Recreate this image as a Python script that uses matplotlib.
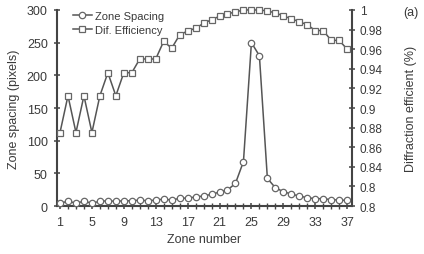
import numpy as np
import matplotlib
matplotlib.use('Agg')
import matplotlib.pyplot as plt
from matplotlib.ticker import FixedLocator, FixedFormatter, MultipleLocator

# zone numbers 1..37
zones = list(range(1, 38))

# zone spacing (pixels)
spacing = [4.6, 7.2, 4.6, 7.2, 4.6, 7.2, 8.1, 7.2, 8.1, 8.0,
           9.2, 8.0, 9.2, 10.7, 9.2, 11.8, 12.3, 13.8, 15.5, 17.9,
           21.4, 24.5, 34.8, 68.0, 250.0, 230.0, 42.4, 28.0, 22.0, 18.4,
           15.3, 12.8, 11.3, 11.3, 9.8, 9.2, 8.7]

# diffraction efficiency
efficiency = [0.875, 0.9125, 0.875, 0.9125, 0.875, 0.9125, 0.936, 0.9125, 0.936, 0.936,
              0.95, 0.95, 0.95, 0.968, 0.961, 0.9745, 0.9786, 0.9813, 0.9864, 0.990,
              0.9936, 0.996, 0.998, 1.0, 1.0, 1.0, 0.999, 0.997, 0.994, 0.991,
              0.988, 0.985, 0.979, 0.979, 0.969, 0.969, 0.960]

x_ticks = [1, 5, 9, 13, 17, 21, 25, 29, 33, 37]
right_ticks = [0.8, 0.82, 0.84, 0.86, 0.88, 0.9, 0.92, 0.94, 0.96, 0.98, 1.0]
right_labels = ['0.8', '0.8', '0.84', '0.86', '0.88', '0.9', '0.92', '0.94', '0.96', '0.98', '1']

plt.rcParams['font.family'] = ['Liberation Sans', 'DejaVu Sans']
plt.rcParams['font.size'] = 9

line_col = '#555555'
text_col = '#3a3a3a'
spine_col = '#444444'

fig = plt.figure(figsize=(4.24, 2.55), dpi=100)
ax = fig.add_axes([0.134, 0.188, 0.696, 0.769])
ax2 = ax.twinx()

l1, = ax.plot(zones, spacing, '-o', color=line_col, lw=1.1, ms=4.6,
              mfc='white', mec='#666666', mew=0.9, clip_on=False, zorder=3)
l2, = ax2.plot(zones, efficiency, '-s', color=line_col, lw=1.1, ms=5,
               mfc='white', mec='#666666', mew=0.9, clip_on=False, zorder=3)

ax.set_xlim(0.6, 37.6)
ax.set_ylim(0, 300)
ax2.set_ylim(0.8, 1.0)

ax.xaxis.set_major_locator(FixedLocator(x_ticks))
ax.xaxis.set_minor_locator(MultipleLocator(1))
ax.yaxis.set_major_locator(MultipleLocator(50))
ax2.yaxis.set_major_locator(FixedLocator(right_ticks))
ax2.yaxis.set_major_formatter(FixedFormatter(right_labels))

for a in (ax, ax2):
    a.spines['top'].set_visible(False)
    for s in ('left', 'right', 'bottom'):
        a.spines[s].set_color(spine_col)
        a.spines[s].set_linewidth(1.5)
    a.tick_params(axis='both', which='major', direction='inout', length=5,
                  width=1.1, color=spine_col, labelcolor=text_col, labelsize=9)
    a.tick_params(axis='both', which='minor', direction='inout', length=4,
                  width=1.0, color=spine_col)
ax.spines['right'].set_visible(False)
ax2.spines['left'].set_visible(False)
ax2.spines['bottom'].set_visible(False)
ax.tick_params(axis='x', which='major', pad=5)
ax.tick_params(axis='y', which='major', pad=4)
ax2.tick_params(axis='y', which='major', pad=3, labelsize=8.5)

ax.set_xlabel('Zone number', color=text_col, fontsize=9, labelpad=3)
ax.set_ylabel('Zone spacing (pixels)', color=text_col, fontsize=9, labelpad=5)
ax2.set_ylabel('Diffraction efficient (%)', color=text_col, fontsize=9,
               labelpad=16)

leg = ax.legend([l1, l2], ['Zone Spacing', 'Dif. Efficiency'], loc='upper left',
                bbox_to_anchor=(0.02, 1.045), frameon=False, handlelength=1.7,
                handletextpad=0.3, labelspacing=0.35, fontsize=8)
for t in leg.get_texts():
    t.set_color(text_col)

fig.text(0.97, 0.95, '(a)', color=text_col, fontsize=9, ha='center', va='center')

fig.savefig('out.png', dpi=100)
